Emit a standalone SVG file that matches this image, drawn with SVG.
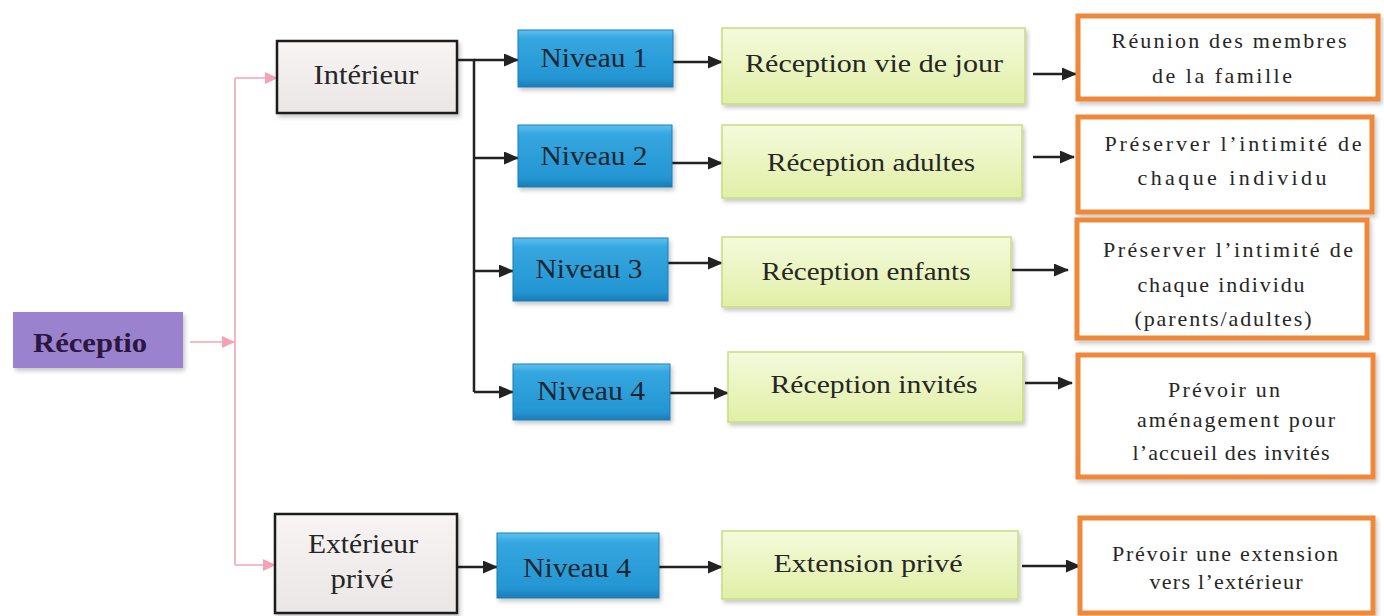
<svg xmlns="http://www.w3.org/2000/svg" width="1384" height="616" viewBox="0 0 1384 616">
<style>
.t{font-family:"Liberation Serif","Times New Roman",serif;fill:#262626;text-anchor:middle}
.or{font-size:22px}
.ye{font-size:26px}
.nv{font-size:27px;fill:#1d2630}
.bx{font-size:28px}
.blk{stroke:#222;stroke-width:2.5;fill:none;marker-end:url(#ab)}
.blkn{stroke:#222;stroke-width:2.5;fill:none}
.pk{stroke:#f4a3b6;stroke-width:1.6;fill:none}
.pka{stroke:#f4a3b6;stroke-width:1.6;fill:none;marker-end:url(#ap)}
.orange{fill:#fff;stroke:#f0883a;stroke-width:5}
.yel{fill:url(#gy);stroke:#cadc80;stroke-width:1.5}
.blue{fill:url(#gb);stroke:#1c7fb9;stroke-width:1}
.grey{fill:url(#gg);stroke:#1e1e1e;stroke-width:2.5}
</style>
<defs>
<linearGradient id="gy" x1="0" y1="0" x2="0" y2="1"><stop offset="0" stop-color="#f4fadc"/><stop offset="1" stop-color="#e1efa6"/></linearGradient>
<linearGradient id="gb" x1="0" y1="0" x2="0" y2="1"><stop offset="0" stop-color="#5cc2ef"/><stop offset="0.15" stop-color="#35a6df"/><stop offset="0.85" stop-color="#2496d3"/><stop offset="1" stop-color="#1a7cb6"/></linearGradient>
<linearGradient id="gg" x1="0" y1="0" x2="0" y2="1"><stop offset="0" stop-color="#f8f4f4"/><stop offset="1" stop-color="#ebe6e6"/></linearGradient>
<filter id="sh" x="-10%" y="-10%" width="125%" height="135%"><feDropShadow dx="2" dy="3" stdDeviation="2" flood-color="#000" flood-opacity="0.22"/></filter>
<marker id="ab" viewBox="0 0 15 13" refX="14" refY="6.5" markerWidth="15" markerHeight="13" markerUnits="userSpaceOnUse" orient="auto"><path d="M0,0 L15,6.5 L0,13 z" fill="#222"/></marker>
<marker id="ap" viewBox="0 0 13 12" refX="12" refY="6" markerWidth="13" markerHeight="12" markerUnits="userSpaceOnUse" orient="auto"><path d="M0,0 L13,6 L0,12 z" fill="#f4a3b6"/></marker>
</defs>
<rect width="1384" height="616" fill="#fff"/>

<g id="connectors">
<path class="pka" d="M190,342 L234,342"/>
<path class="pk" d="M235,78 L235,565"/>
<path class="pka" d="M235,78 L277,78"/>
<path class="pka" d="M235,565 L275,565"/>
<path class="blkn" d="M457,60 L474,60 L474,392"/>
<path class="blk" d="M474,60 L518,60"/>
<path class="blk" d="M474,158 L518,158"/>
<path class="blk" d="M474,271 L513,271"/>
<path class="blk" d="M474,392 L513,392"/>
<path class="blk" d="M457,567 L497,567"/>
<path class="blk" d="M673,62 L722,62"/>
<path class="blk" d="M672,163 L722,163"/>
<path class="blk" d="M668,263 L722,263"/>
<path class="blk" d="M670,393 L728,393"/>
<path class="blk" d="M659,567 L722,567"/>
<path class="blk" d="M1033,74 L1076,74"/>
<path class="blk" d="M1033,157 L1074,157"/>
<path class="blk" d="M1012,270 L1068,270"/>
<path class="blk" d="M1025,383 L1072,383"/>
<path class="blk" d="M1022,566 L1080,566"/>
</g>

<g id="reception">
<rect x="13" y="312" width="170" height="56" fill="#9b82cf" filter="url(#sh)"/>
<text class="t bx" x="90" y="352" font-weight="bold" style="fill:#2b1840" textLength="114" lengthAdjust="spacingAndGlyphs">Réceptio</text>
</g>

<g id="interieur">
<rect class="grey" x="277" y="41" width="180" height="72" filter="url(#sh)"/>
<text class="t bx" x="366" y="84" textLength="105" lengthAdjust="spacingAndGlyphs">Intérieur</text>
</g>
<g id="exterieur">
<rect class="grey" x="275" y="514" width="182" height="99" filter="url(#sh)"/>
<text class="t bx" x="363" y="553" textLength="110" lengthAdjust="spacingAndGlyphs">Extérieur</text>
<text class="t bx" x="362" y="588" textLength="63" lengthAdjust="spacingAndGlyphs">privé</text>
</g>

<g id="niveau1">
<rect class="blue" x="518" y="30" width="155" height="57" filter="url(#sh)"/>
<text class="t nv" x="594" y="67" textLength="107" lengthAdjust="spacingAndGlyphs">Niveau 1</text>
</g>
<g id="niveau2">
<rect class="blue" x="518" y="125" width="154" height="62" filter="url(#sh)"/>
<text class="t nv" x="594" y="165" textLength="107" lengthAdjust="spacingAndGlyphs">Niveau 2</text>
</g>
<g id="niveau3">
<rect class="blue" x="513" y="238" width="155" height="63" filter="url(#sh)"/>
<text class="t nv" x="589" y="278" textLength="107" lengthAdjust="spacingAndGlyphs">Niveau 3</text>
</g>
<g id="niveau4">
<rect class="blue" x="513" y="364" width="157" height="56" filter="url(#sh)"/>
<text class="t nv" x="591" y="400" textLength="108" lengthAdjust="spacingAndGlyphs">Niveau 4</text>
</g>
<g id="niveau4ext">
<rect class="blue" x="497" y="533" width="162" height="65" filter="url(#sh)"/>
<text class="t nv" x="577" y="577" textLength="108" lengthAdjust="spacingAndGlyphs">Niveau 4</text>
</g>

<g id="rec-jour">
<rect class="yel" x="722" y="28" width="303" height="76" filter="url(#sh)"/>
<text class="t ye" x="874" y="72" textLength="258" lengthAdjust="spacingAndGlyphs">Réception vie de jour</text>
</g>
<g id="rec-adultes">
<rect class="yel" x="722" y="125" width="300" height="73" filter="url(#sh)"/>
<text class="t ye" x="871" y="171" textLength="208" lengthAdjust="spacingAndGlyphs">Réception adultes</text>
</g>
<g id="rec-enfants">
<rect class="yel" x="722" y="237" width="289" height="70" filter="url(#sh)"/>
<text class="t ye" x="866" y="280" textLength="209" lengthAdjust="spacingAndGlyphs">Réception enfants</text>
</g>
<g id="rec-invites">
<rect class="yel" x="728" y="352" width="295" height="70" filter="url(#sh)"/>
<text class="t ye" x="874" y="393" textLength="207" lengthAdjust="spacingAndGlyphs">Réception invités</text>
</g>
<g id="ext-prive">
<rect class="yel" x="722" y="531" width="296" height="68" filter="url(#sh)"/>
<text class="t ye" x="868" y="572" textLength="189" lengthAdjust="spacingAndGlyphs">Extension privé</text>
</g>

<g id="out1">
<rect class="orange" x="1078" y="16" width="300" height="83" filter="url(#sh)"/>
<text class="t or" x="1229" y="48" textLength="235" lengthAdjust="spacing">Réunion des membres</text>
<text class="t or" x="1222" y="83" textLength="140" lengthAdjust="spacing">de la famille</text>
</g>
<g id="out2">
<rect class="orange" x="1078" y="117" width="294" height="95" filter="url(#sh)"/>
<text class="t or" x="1233" y="151" textLength="257" lengthAdjust="spacing">Préserver l’intimité de</text>
<text class="t or" x="1232" y="185" textLength="189" lengthAdjust="spacing">chaque individu</text>
</g>
<g id="out3">
<rect class="orange" x="1077" y="220" width="290" height="118" filter="url(#sh)"/>
<text class="t or" x="1228" y="257" textLength="250" lengthAdjust="spacing">Préserver l’intimité de</text>
<text class="t or" x="1221" y="292" textLength="167" lengthAdjust="spacing">chaque individu</text>
<text class="t or" x="1223" y="326" textLength="177" lengthAdjust="spacing">(parents/adultes)</text>
</g>
<g id="out4">
<rect class="orange" x="1078" y="355" width="295" height="122" filter="url(#sh)"/>
<text class="t or" x="1224" y="397" textLength="112" lengthAdjust="spacing">Prévoir un</text>
<text class="t or" x="1236" y="427" textLength="198" lengthAdjust="spacing">aménagement pour</text>
<text class="t or" x="1231" y="460" textLength="197" lengthAdjust="spacing">l’accueil des invités</text>
</g>
<g id="out5">
<rect class="orange" x="1080" y="518" width="293" height="95" filter="url(#sh)"/>
<text class="t or" x="1225" y="561" textLength="226" lengthAdjust="spacing">Prévoir une extension</text>
<text class="t or" x="1226" y="589" textLength="153" lengthAdjust="spacing">vers l’extérieur</text>
</g>
</svg>
